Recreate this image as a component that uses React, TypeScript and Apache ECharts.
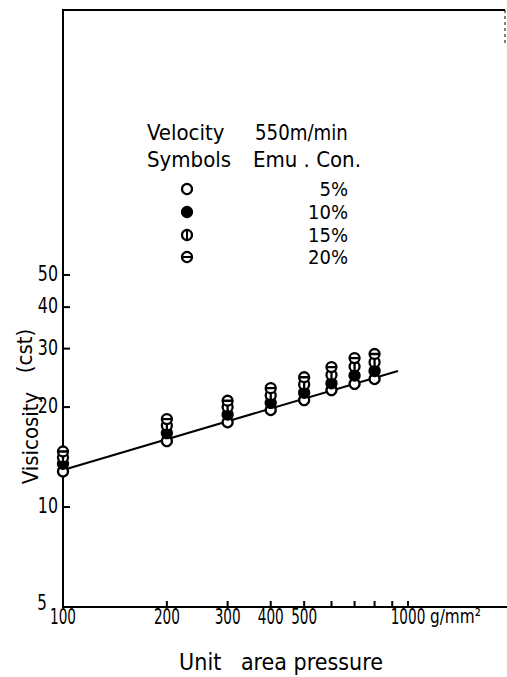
import React, { useEffect, useRef } from "react";
import * as echarts from "echarts";

// Data
const pressures = [100, 200, 300, 400, 500, 600, 700, 800];
const visc5 = [12.8, 15.8, 18.0, 19.6, 21.0, 22.5, 23.5, 24.3];
const visc10 = [13.5, 16.7, 19.0, 20.6, 22.1, 23.6, 24.9, 25.7];
const visc15 = [14.1, 17.6, 20.0, 21.7, 23.4, 25.0, 26.5, 27.3];
const visc20 = [14.7, 18.4, 20.9, 22.8, 24.6, 26.4, 28.1, 28.9];
const fitX = [100, 935];
const fitY = [12.93, 25.7];

const xTickVals = [200, 300, 400, 500, 600, 700, 800, 900, 1000];
const xLabelVals = [100, 200, 300, 400, 500, 1000];
const yTickVals = [10, 20, 30, 40, 50];
const yLabelVals = [10, 20, 30, 40, 50];
const legendLabels = ["5%", "10%", "15%", "20%"];

const FONT = "'DejaVu Sans Condensed', 'DejaVu Sans', sans-serif";

const sym15 = "path://M0,5A5,5,0,1,1,10,5A5,5,0,1,1,0,5ZM5,0L5,10";
const sym20 = "path://M0,5A5,5,0,1,1,10,5A5,5,0,1,1,0,5ZM0,5L10,5";

export default function App() {
  const ref = useRef<HTMLDivElement>(null);
  useEffect(() => {
    const chart = echarts.init(ref.current!, null, { renderer: "svg" });
    const pts = (arr: number[]) => pressures.map((p, i) => [p, arr[i]]);
    const scatterBase = {
      type: "scatter",
      symbolSize: 10,
      z: 5,
      itemStyle: { borderColor: "#000", borderWidth: 2.3, opacity: 1 },
    };
    const legY = [189, 212, 235, 257];
    const legendGraphics: any[] = [];
    legY.forEach((y, i) => {
      const children: any[] = [
        {
          type: "circle",
          shape: { cx: 187, cy: y, r: 5 },
          style: { fill: i === 1 ? "#000" : "#fff", stroke: "#000", lineWidth: 2.2 },
        },
      ];
      if (i === 2)
        children.push({ type: "line", shape: { x1: 187, y1: y - 5, x2: 187, y2: y + 5 }, style: { stroke: "#000", lineWidth: 2 } });
      if (i === 3)
        children.push({ type: "line", shape: { x1: 182, y1: y, x2: 192, y2: y }, style: { stroke: "#000", lineWidth: 2 } });
      legendGraphics.push({ type: "group", children });
      legendGraphics.push({
        type: "text",
        x: 348,
        y,
        style: { text: legendLabels[i], font: `20px ${FONT}`, fill: "#000", align: "right", verticalAlign: "middle" },
      });
    });

    chart.setOption({
      animation: false,
      backgroundColor: "#fff",
      grid: { left: 63, top: 10, right: 0, bottom: 70 },
      xAxis: {
        type: "log",
        min: 100,
        max: 1936,
        axisLine: { show: true, lineStyle: { color: "#000", width: 2 } },
        axisTick: { show: false },
        axisLabel: { show: false },
        splitLine: { show: false },
        minorTick: { show: false },
      },
      yAxis: {
        type: "log",
        min: 5,
        max: 314,
        axisLine: { show: true, lineStyle: { color: "#000", width: 2 } },
        axisTick: { show: false },
        axisLabel: { show: false },
        splitLine: { show: false },
      },
      graphic: [
        { type: "line", shape: { x1: 62, y1: 10, x2: 505, y2: 10 }, style: { stroke: "#000", lineWidth: 2 } },
        { type: "line", shape: { x1: 505, y1: 10, x2: 505, y2: 45 }, style: { stroke: "#000", lineWidth: 1, lineDash: [3, 3] } },
        { type: "text", x: 147, y: 132, style: { text: "Velocity", font: `22px ${FONT}`, fill: "#000", verticalAlign: "middle" } },
        { type: "text", x: 255, y: 132, scaleX: 0.92, style: { text: "550m/min", font: `22px ${FONT}`, fill: "#000", verticalAlign: "middle" } },
        { type: "text", x: 147, y: 159, style: { text: "Symbols", font: `22px ${FONT}`, fill: "#000", verticalAlign: "middle" } },
        { type: "text", x: 253, y: 159, style: { text: "Emu . Con.", font: `22px ${FONT}`, fill: "#000", verticalAlign: "middle" } },
        ...legendGraphics,
        { type: "text", x: 42, y: 602, scaleX: 0.8, style: { text: "5", font: `21px ${FONT}`, fill: "#000", align: "center", verticalAlign: "middle" } },
        { type: "text", x: 430, y: 616, scaleX: 0.85, style: { text: "g/mm²", font: `20px ${FONT}`, fill: "#000", verticalAlign: "middle" } },
        { type: "text", x: 281, y: 662, style: { text: "Unit   area pressure", font: `23px ${FONT}`, fill: "#000", align: "center", verticalAlign: "middle" } },
        { type: "text", x: 30, y: 438, rotation: Math.PI / 2, style: { text: "Visicosity", font: `22px ${FONT}`, fill: "#000", align: "center", verticalAlign: "middle" } },
        { type: "text", x: 24, y: 351, rotation: Math.PI / 2, style: { text: "(cst)", font: `22px ${FONT}`, fill: "#000", align: "center", verticalAlign: "middle" } },
      ],
      series: [
        {
          type: "line",
          data: fitX.map((x, i) => [x, fitY[i]]),
          symbol: "none",
          z: 2,
          lineStyle: { color: "#000", width: 2 },
        },
        { ...scatterBase, name: "5%", data: pts(visc5), symbol: "circle", itemStyle: { ...scatterBase.itemStyle, color: "#fff" } },
        { ...scatterBase, name: "10%", data: pts(visc10), symbol: "circle", itemStyle: { ...scatterBase.itemStyle, color: "#000" } },
        { ...scatterBase, name: "15%", data: pts(visc15), symbol: sym15, itemStyle: { ...scatterBase.itemStyle, color: "#fff" } },
        { ...scatterBase, name: "20%", data: pts(visc20), symbol: sym20, itemStyle: { ...scatterBase.itemStyle, color: "#fff" } },
        {
          type: "custom",
          clip: false,
          silent: true,
          data: xTickVals.map((v) => [v, 5]),
          encode: { x: 0, y: 1 },
          renderItem: (params: any, api: any) => {
            const p = api.coord([api.value(0), api.value(1)]);
            return { type: "line", shape: { x1: p[0], y1: p[1], x2: p[0], y2: p[1] - 6 }, style: { stroke: "#000", lineWidth: 2 } };
          },
        },
        {
          type: "custom",
          clip: false,
          silent: true,
          data: xLabelVals.map((v) => [v, 5]),
          encode: { x: 0, y: 1 },
          renderItem: (params: any, api: any) => {
            const v = api.value(0);
            const p = api.coord([v, api.value(1)]);
            return {
              type: "text",
              x: p[0],
              y: p[1] + 10,
              scaleX: 0.72,
              style: { text: String(v), font: `21px ${FONT}`, fill: "#000", align: "center", verticalAlign: "middle" },
            };
          },
        },
        {
          type: "custom",
          clip: false,
          silent: true,
          data: yTickVals.map((v) => [100, v]),
          encode: { x: 0, y: 1 },
          renderItem: (params: any, api: any) => {
            const p = api.coord([api.value(0), api.value(1)]);
            return { type: "line", shape: { x1: p[0], y1: p[1], x2: p[0] + 7, y2: p[1] }, style: { stroke: "#000", lineWidth: 2 } };
          },
        },
        {
          type: "custom",
          clip: false,
          silent: true,
          data: yLabelVals.map((v) => [100, v]),
          encode: { x: 0, y: 1 },
          renderItem: (params: any, api: any) => {
            const v = api.value(1);
            const p = api.coord([api.value(0), v]);
            return {
              type: "text",
              x: p[0] - 5,
              y: p[1] - 1,
              scaleX: 0.8,
              style: { text: String(v), font: `22px ${FONT}`, fill: "#000", align: "right", verticalAlign: "middle" },
            };
          },
        },
      ],
    });
    return () => chart.dispose();
  }, []);
  return <div ref={ref} style={{ position: "fixed", left: 0, top: 0, width: 507, height: 677, background: "#fff" }} />;
}
